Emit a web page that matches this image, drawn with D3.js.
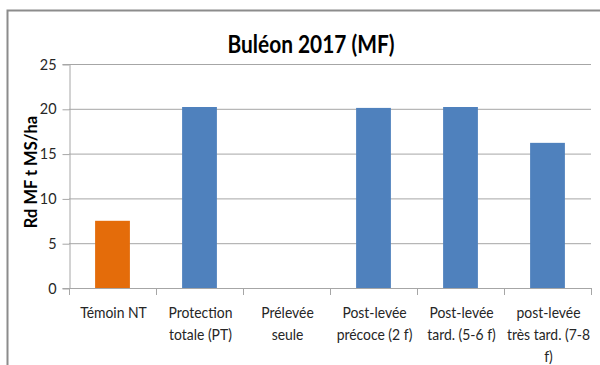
<!DOCTYPE html>
<html>
<head>
<meta charset="utf-8">
<script src="https://cdn.jsdelivr.net/npm/d3@7"></script>
<style>
  html, body { margin: 0; padding: 0; background: #fff; }
  svg { display: block; }
  text { font-family: Lato, "Open Sans", sans-serif; }
</style>
</head>
<body>
<div id="chart"></div>
<script>
// Yield per treatment, Buléon 2017 trial
const categories = [
  ["Témoin NT"],
  ["Protection", "totale (PT)"],
  ["Prélevée", "seule"],
  ["Post-levée", "précoce (2 f)"],
  ["Post-levée", "tard. (5-6 f)"],
  ["post-levée", "très tard. (7-8", "f)"]
];
const values = [7.5, 20.2, 0, 20.1, 20.2, 16.2];
const barColors = ["#E46C0A", "#4F81BD", "#4F81BD", "#4F81BD", "#4F81BD", "#4F81BD"];
const yTicks = [0, 5, 10, 15, 20, 25];
const title = "Buléon 2017 (MF)";
const yLabel = "Rd MF t MS/ha";

const W = 600, H = 365;
const svg = d3.select("#chart").append("svg").attr("width", W).attr("height", H);

// chart frame (cut off at right and bottom)
svg.append("rect")
  .attr("x", 7.5).attr("y", 10.5)
  .attr("width", 620).attr("height", 380)
  .attr("fill", "#fff").attr("stroke", "#8c8c8c").attr("stroke-width", 2);

const plot = { left: 69, right: 591, top: 64, bottom: 288 };
const x = d3.scaleBand().domain(d3.range(categories.length))
  .range([plot.left, plot.right]).paddingInner(0.6).paddingOuter(0.3);
const xOuter = d3.scaleBand().domain(d3.range(categories.length))
  .range([plot.left, plot.right]);
const y = d3.scaleLinear().domain([0, 25]).range([plot.bottom, plot.top]);

// gridlines
svg.append("g").selectAll("line").data(yTicks.filter(t => t > 0)).join("line")
  .attr("x1", plot.left).attr("x2", plot.right)
  .attr("y1", d => y(d) + 0.5).attr("y2", d => y(d) + 0.5)
  .attr("stroke", "#a6a6a6").attr("stroke-width", 1);

// y axis
const yAxis = svg.append("g").attr("transform", `translate(${plot.left + 0.5},0)`)
  .call(d3.axisLeft(y).tickValues(yTicks).tickSize(7).tickPadding(6));
yAxis.select(".domain").attr("stroke", "#a6a6a6");
yAxis.selectAll(".tick line").attr("stroke", "#a6a6a6").attr("transform", "translate(0,0.5)");
yAxis.selectAll(".tick text").attr("font-size", 16).attr("fill", "#262626")
  .attr("font-family", "Lato, sans-serif")
  .attr("transform", "scale(0.9,1)").attr("x", -13 / 0.9);

// bars
svg.append("g").selectAll("rect").data(values).join("rect")
  .attr("x", (d, i) => x(i))
  .attr("width", x.bandwidth())
  .attr("y", d => y(d))
  .attr("height", d => y(0) - y(d))
  .attr("fill", (d, i) => barColors[i]);

// x axis
svg.append("line")
  .attr("x1", plot.left).attr("x2", plot.right)
  .attr("y1", plot.bottom + 0.5).attr("y2", plot.bottom + 0.5)
  .attr("stroke", "#a6a6a6");
const boundaries = d3.range(categories.length + 1).map(i =>
  i < categories.length ? xOuter(i) : xOuter(i - 1) + xOuter.bandwidth());
svg.append("g").selectAll("line").data(boundaries).join("line")
  .attr("x1", d => Math.round(d) + 0.5).attr("x2", d => Math.round(d) + 0.5)
  .attr("y1", plot.bottom).attr("y2", plot.bottom + 7)
  .attr("stroke", "#a6a6a6");

// category labels
const labels = svg.append("g").selectAll("text").data(categories).join("text")
  .attr("text-anchor", "middle")
  .attr("font-size", 16).attr("fill", "#262626")
  .attr("transform", (d, i) =>
    `translate(${xOuter(i) + xOuter.bandwidth() / 2 + 1},318) scale(0.87,1)`);
labels.selectAll("tspan").data(d => d).join("tspan")
  .attr("x", 0).attr("dy", (d, j) => j === 0 ? 0 : 22)
  .text(d => d);

// title
svg.append("text")
  .attr("transform", "translate(311,53) scale(0.87,1)")
  .attr("text-anchor", "middle")
  .attr("font-size", 24).attr("font-weight", "bold").attr("fill", "#000")
  .text(title);

// y axis title
svg.append("text")
  .attr("transform", "translate(37,172) rotate(-90)")
  .attr("text-anchor", "middle")
  .attr("font-size", 16.5).attr("font-weight", "bold").attr("fill", "#000")
  .attr("font-family", "Open Sans, sans-serif")
  .text(yLabel);
</script>
</body>
</html>
